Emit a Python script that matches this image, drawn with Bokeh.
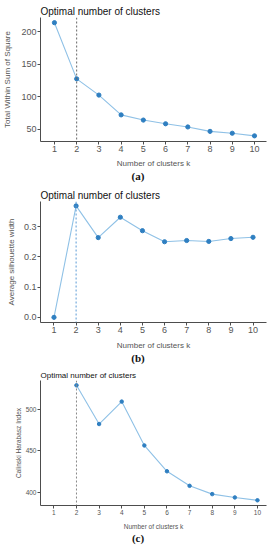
from bokeh.plotting import figure
from bokeh.layouts import column
from bokeh.models import FixedTicker, Range1d, Span, NumeralTickFormatter, Div
from bokeh.embed import file_html
from bokeh.resources import INLINE

k = [1, 2, 3, 4, 5, 6, 7, 8, 9, 10]
wss = [214, 127.5, 102.5, 72, 64, 58.3, 53.4, 46.6, 43.7, 39.7]
sil = [0.0, 0.3685, 0.2636, 0.331, 0.2865, 0.250, 0.254, 0.251, 0.2605, 0.2647]
k_ch = [2, 3, 4, 5, 6, 7, 8, 9, 10]
ch = [529, 482.4, 509.4, 456.6, 425.5, 408, 398, 394, 390.6]
optimal_k = 2

title_text = "Optimal number of clusters"
x_label = "Number of clusters k"
captions = ["(a)", "(b)", "(c)"]
LINE = "#8fc1e6"
PT = "#2f7fc1"
FONT = "Liberation Sans"
W = 276


def panel(xs, ys, h, xr, yr, yticks, ylabel, vcolor, small=False, fmt=None,
          left=39, right=10, top=17, bottom=23, xlab_std=4, ylab_std=4):
    p = figure(width=W, height=h, output_backend="svg", toolbar_location=None,
               x_range=Range1d(*xr), y_range=Range1d(*yr),
               min_border_left=left, min_border_right=right, min_border_top=top,
               min_border_bottom=bottom)
    p.grid.visible = False
    p.outline_line_color = None
    p.background_fill_color = "white"
    p.line(xs, ys, line_color=LINE, line_width=1.1)
    p.scatter(xs, ys, size=4.2 if not small else 3.5, color=PT, line_color=PT)
    p.add_layout(Span(location=optimal_k, dimension="height", line_dash="2 2",
                      line_color=vcolor, line_width=1))
    fs_tick = "6.5px" if small else "9px"
    fs_lab = "6.5px" if small else "8px"
    fs_title = "8px" if small else "10px"
    p.title.text = title_text
    p.title.text_font = FONT
    p.title.text_font_size = fs_title
    p.title.text_font_style = "normal"
    p.title.text_color = "#111111"
    p.title.offset = 0
    p.title.standoff = 2
    p.xaxis.ticker = FixedTicker(ticks=k)
    p.yaxis.ticker = FixedTicker(ticks=yticks)
    if fmt:
        p.yaxis.formatter = NumeralTickFormatter(format=fmt)
    p.xaxis.axis_label = x_label
    p.yaxis.axis_label = ylabel
    for ax in (p.xaxis, p.yaxis):
        ax.axis_line_color = "#4d4d4d"
        ax.major_tick_line_color = "#4d4d4d"
        ax.major_tick_out = 3
        ax.major_tick_in = 0
        ax.minor_tick_line_color = None
        ax.major_label_text_font = FONT
        ax.major_label_text_font_size = fs_tick
        ax.major_label_text_color = "#555555"
        ax.axis_label_text_font = FONT
        ax.axis_label_text_font_size = fs_lab
        ax.axis_label_text_color = "#555555"
        ax.axis_label_text_font_style = "normal"
        ax.major_label_standoff = 1
    p.xaxis.axis_label_standoff = xlab_std
    p.yaxis.axis_label_standoff = ylab_std
    return p


def cap(text):
    return Div(text=text, width=W, height=12, margin=0,
               styles={"font-family": "Liberation Serif", "font-size": "11px",
                       "font-weight": "bold", "text-align": "center",
                       "line-height": "12px", "color": "#111111",
                       "width": f"{W}px"})


pa = panel(k, wss, 170, (0.373, 10.54), (31, 222), [50, 100, 150, 200],
           "Total Within Sum of Square", "#666666",
           left=39, right=10, top=17, bottom=23, xlab_std=4, ylab_std=6)
pb = panel(k, sil, 170, (0.39, 10.61), (-0.017, 0.383), [0.0, 0.1, 0.2, 0.3],
           "Average silhouette width", "#5b9bd5", fmt="0.0",
           left=37, right=9, top=19, bottom=23, xlab_std=5, ylab_std=5)
pc = panel(k_ch, ch, 168, (0.41, 10.4), (384.3, 534.8), [400, 450, 500],
           "Calinski Harabasz Index", "#888888", small=True,
           left=26, right=8, top=16, bottom=18, xlab_std=5, ylab_std=1)

layout = column(pa, cap(captions[0]), pb, cap(captions[1]), pc, cap(captions[2]),
                spacing=0)
open("out.html", "w").write(file_html(layout, INLINE))
